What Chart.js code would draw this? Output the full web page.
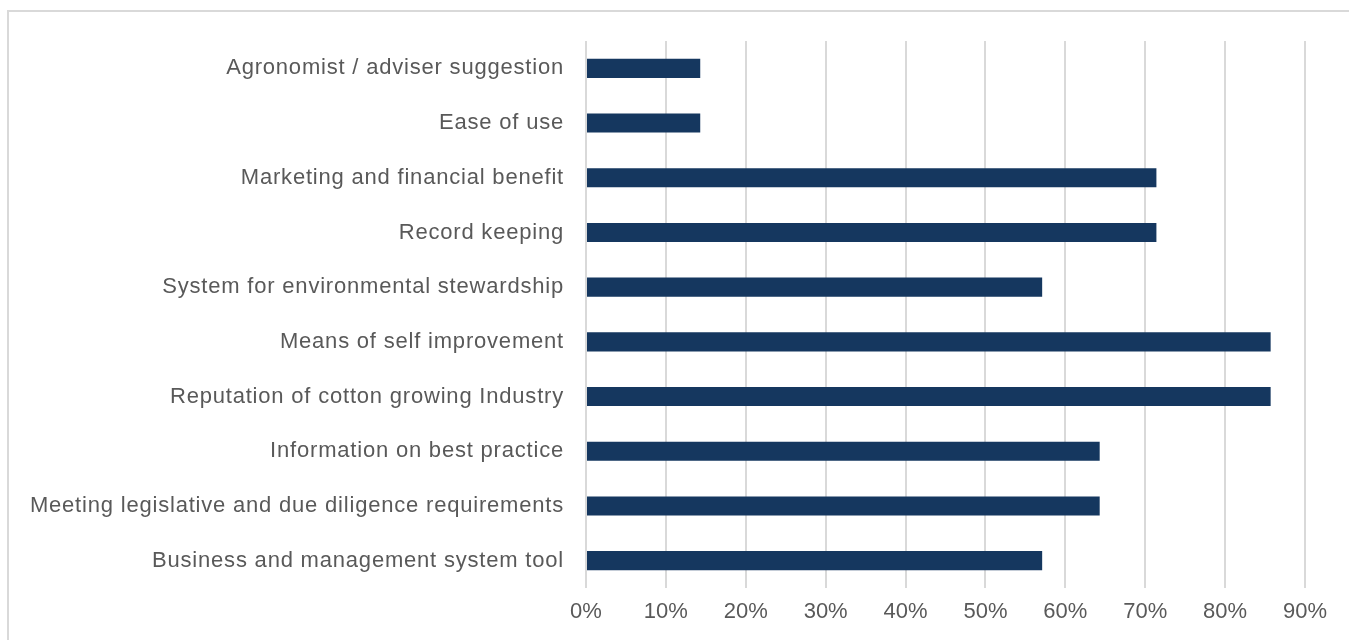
<!DOCTYPE html>
<html>
<head>
<meta charset="utf-8">
<script src="https://cdn.jsdelivr.net/npm/chart.js@4"></script>
<style>
  html, body { margin: 0; padding: 0; background: #fff; overflow: hidden; }
  #frame { position: absolute; left: 7px; top: 10px; width: 1400px; height: 700px; border: 2px solid #d9d9d9; }
  #wrap { position: absolute; left: 0; top: 0; width: 1349px; height: 640px; }
</style>
</head>
<body>
<div id="frame"></div>
<div id="wrap"><canvas id="chart"></canvas></div>
<script>
// ==================== DATA ====================
const categories = [
    'Agronomist / adviser suggestion',
    'Ease of use',
    'Marketing and financial benefit',
    'Record keeping',
    'System for environmental stewardship',
    'Means of self improvement',
    'Reputation of cotton growing Industry',
    'Information on best practice',
    'Meeting legislative and due diligence requirements',
    'Business and management system tool'
];
const shares = [14.3, 14.3, 71.4, 71.4, 57.1, 85.7, 85.7, 64.3, 64.3, 57.1];
const tickValues = [0, 10, 20, 30, 40, 50, 60, 70, 80, 90];

// the category labels are spaced a bit wider than plain Arial
const labelSpacing = {
    id: 'labelSpacing',
    afterLayout(chart) {
        const y = chart.scales.y;
        if (y._spaced) return;
        const orig = y.drawLabels;
        y.drawLabels = function (area) {
            const c = this.ctx;
            c.save();
            c.letterSpacing = '0.8px';
            orig.call(this, area);
            c.restore();
        };
        y._spaced = true;
    }
};

// ==================== CHART ====================
const ctx = document.getElementById('chart').getContext('2d');
new Chart(ctx, {
    type: 'bar',
    data: {
        labels: categories,
        datasets: [{ data: shares, backgroundColor: '#15375f', barPercentage: 0.7, categoryPercentage: 0.5 }]
    },
    options: {
        indexAxis: 'y',
        responsive: true,
        maintainAspectRatio: false,
        animation: false,
        layout: { padding: { top: 41, right: 44, bottom: 0, left: 0 } },
        plugins: { legend: { display: false }, tooltip: { enabled: false } },
        scales: {
            x: {
                min: 0, max: 90,
                afterBuildTicks: axis => { axis.ticks = tickValues.map(v => ({ value: v })); },
                afterFit: axis => { axis.height = 52; },
                grid: { color: '#d9d9d9', lineWidth: 2, drawTicks: false },
                border: { display: false },
                ticks: { color: '#595959', padding: 11, font: { family: 'Liberation Sans', size: 22 }, callback: v => v + '%' }
            },
            y: {
                afterFit: axis => { axis.width = 586; },
                grid: { display: false },
                border: { display: false },
                ticks: { color: '#595959', padding: 14, font: { family: 'Liberation Sans', size: 22 } }
            }
        }
    },
    plugins: [labelSpacing]
});
</script>
</body>
</html>
